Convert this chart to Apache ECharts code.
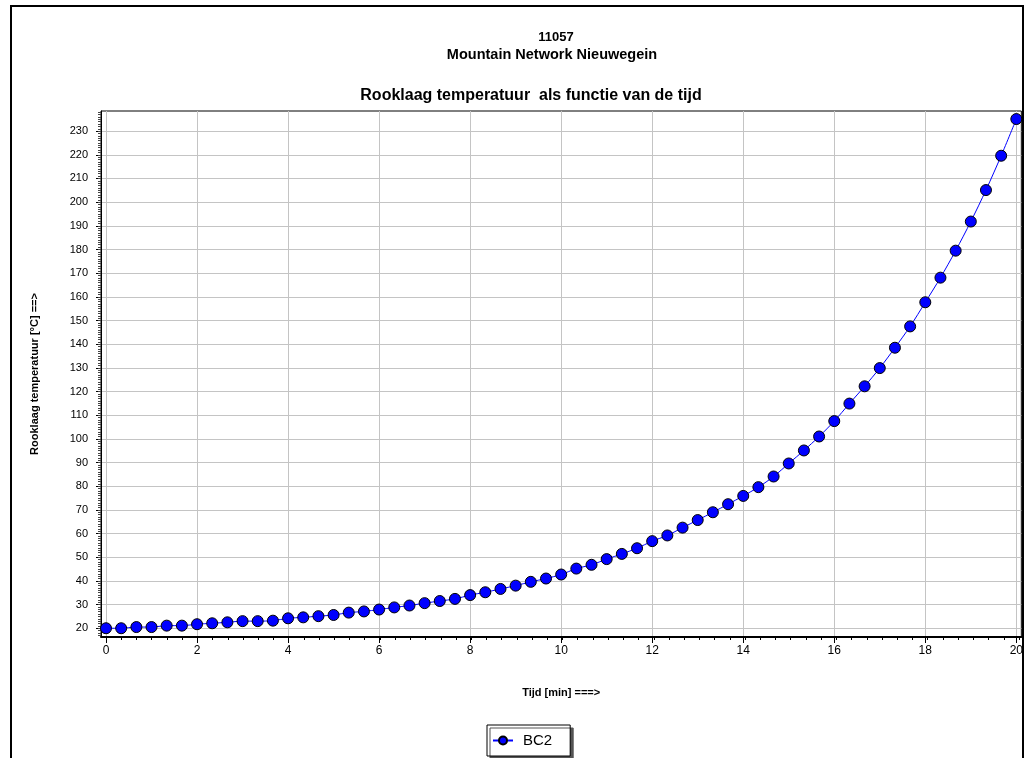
<!DOCTYPE html>
<html lang="nl" style="height: 100%;width: 100%">
<head>
    <meta charset="UTF-8">
    <title>Rooklaag temperatuur</title>
    <script src="https://cdn.jsdelivr.net/npm/echarts@6/dist/echarts.min.js"></script>
</head>
<body style="height: 100%; margin: 0; background: #fff">
<div id="charts" style="width: 1026px; height: 758px"></div>
<script>
    // tijd [min] en rooklaag temperatuur [°C]
    var times = [0, 0.333, 0.667, 1, 1.333, 1.667, 2, 2.333, 2.667, 3,
        3.333, 3.667, 4, 4.333, 4.667, 5, 5.333, 5.667, 6, 6.333,
        6.667, 7, 7.333, 7.667, 8, 8.333, 8.667, 9, 9.333, 9.667,
        10, 10.333, 10.667, 11, 11.333, 11.667, 12, 12.333, 12.667, 13,
        13.333, 13.667, 14, 14.333, 14.667, 15, 15.333, 15.667, 16, 16.333,
        16.667, 17, 17.333, 17.667, 18, 18.333, 18.667, 19, 19.333, 19.667, 20];
    var temps = [20.0, 20.0, 20.5, 20.5, 21.1, 21.1, 21.7, 22.1, 22.5, 23.0,
        23.0, 23.2, 24.2, 24.6, 25.1, 25.6, 26.6, 27.1, 27.9, 28.8,
        29.6, 30.6, 31.5, 32.4, 34.0, 35.2, 36.6, 38.0, 39.6, 41.0,
        42.7, 45.2, 46.8, 49.2, 51.4, 53.8, 56.8, 59.2, 62.5, 65.7,
        69.0, 72.4, 75.9, 79.6, 84.1, 89.6, 95.1, 101.0, 107.5, 114.9,
        122.2, 129.9, 138.5, 147.5, 157.7, 168.1, 179.5, 191.8, 205.1, 219.6, 235.1];
    var xTicks = [0, 2, 4, 6, 8, 10, 12, 14, 16, 18, 20];
    var yTicks = [20, 30, 40, 50, 60, 70, 80, 90, 100, 110, 120, 130, 140, 150,
        160, 170, 180, 190, 200, 210, 220, 230];

    var xMin = -0.11, xMax = 20.11;
    var yMin = 16.3, yMax = 238.5;

    // kleine streepjes langs de y-as, om de 1 graad
    var yMinor = [];
    for (var v = Math.ceil(yMin); v <= yMax; v++) {
        yMinor.push(v);
    }

    var font = '"Liberation Sans", Arial, sans-serif';
    var plot = {left: 101, top: 111, right: 2, bottom: 121};

    var dom = document.getElementById("charts");
    var myChart = echarts.init(dom);
    var option = {
        animation: false,
        backgroundColor: '#fff',
        graphic: [
            {
                type: 'rect',
                shape: {x: 11, y: 6, width: 1012, height: 800},
                style: {fill: null, stroke: '#000', lineWidth: 2},
                silent: true
            },
            {
                type: 'text', x: 556, y: 37,
                style: {text: '11057', font: 'bold 13px ' + font, fill: '#000', align: 'center', verticalAlign: 'middle'}
            },
            {
                type: 'text', x: 552, y: 55,
                style: {text: 'Mountain Network Nieuwegein', font: 'bold 14.5px ' + font, fill: '#000', align: 'center', verticalAlign: 'middle'}
            },
            {
                type: 'text', x: 531, y: 96,
                style: {text: 'Rooklaag temperatuur  als functie van de tijd', font: 'bold 16px ' + font, fill: '#000', align: 'center', verticalAlign: 'middle'}
            }
        ],
        grid: [
            {
                left: plot.left, top: plot.top, right: plot.right, bottom: plot.bottom,
                show: true,
                borderColor: '#000',
                borderWidth: 1
            },
            // tweede grid op dezelfde plek, alleen voor de kleine streepjes
            {
                left: plot.left, top: plot.top, right: plot.right, bottom: plot.bottom,
                show: false
            }
        ],
        legend: {
            left: 487,
            top: 725,
            data: ['BC2'],
            itemWidth: 20,
            itemHeight: 10,
            padding: [8, 18, 8, 5],
            borderColor: '#000',
            borderWidth: 1,
            borderRadius: 0,
            backgroundColor: '#fff',
            shadowColor: '#555',
            shadowOffsetX: 3,
            shadowOffsetY: 3,
            shadowBlur: 0,
            textStyle: {fontFamily: font, fontSize: 15, color: '#000', padding: [0, 0, 0, 5]}
        },
        xAxis: [
            {
                type: 'value',
                gridIndex: 0,
                min: xMin,
                max: xMax,
                name: 'Tijd [min] ===>',
                nameLocation: 'middle',
                nameGap: 50,
                nameTextStyle: {fontFamily: font, fontSize: 11, fontWeight: 'bold', color: '#000'},
                axisLine: {show: true, onZero: false, lineStyle: {color: '#000', width: 2}},
                axisTick: {show: true, customValues: xTicks, length: 6, lineStyle: {color: '#000'}},
                axisLabel: {customValues: xTicks, margin: 8, fontFamily: font, fontSize: 12, color: '#000'},
                splitLine: {show: true, lineStyle: {color: '#c4c4c4', width: 1}}
            },
            {
                type: 'value',
                gridIndex: 1,
                min: xMin,
                max: xMax,
                position: 'bottom',
                axisLine: {show: false, onZero: false},
                axisTick: {show: true, customValues: times, length: 3, lineStyle: {color: '#000'}},
                axisLabel: {show: false},
                splitLine: {show: false}
            }
        ],
        yAxis: [
            {
                type: 'value',
                gridIndex: 0,
                min: yMin,
                max: yMax,
                name: 'Rooklaag temperatuur [°C] ==>',
                nameLocation: 'middle',
                nameGap: 61,
                nameTextStyle: {fontFamily: font, fontSize: 11, fontWeight: 'bold', color: '#000'},
                axisLine: {show: true, onZero: false, lineStyle: {color: '#000', width: 1}},
                axisTick: {show: true, customValues: yTicks, length: 5, lineStyle: {color: '#000'}},
                axisLabel: {customValues: yTicks, margin: 13, fontFamily: font, fontSize: 11, color: '#000'},
                splitLine: {show: true, lineStyle: {color: '#c4c4c4', width: 1}}
            },
            {
                type: 'value',
                gridIndex: 1,
                min: yMin,
                max: yMax,
                position: 'left',
                axisLine: {show: false, onZero: false},
                axisTick: {show: true, customValues: yMinor, length: 3, lineStyle: {color: '#444'}},
                axisLabel: {show: false},
                splitLine: {show: false}
            }
        ],
        series: [
            {
                name: 'BC2',
                type: 'line',
                xAxisIndex: 0,
                yAxisIndex: 0,
                smooth: 0.3,
                symbol: 'circle',
                symbolSize: 11,
                data: times.map(function (t, i) { return [t, temps[i]]; }),
                lineStyle: {color: '#0000ff', width: 1},
                itemStyle: {color: '#0000ff', borderColor: '#000', borderWidth: 1}
            }
        ]
    };
    myChart.setOption(option, true);
</script>
</body>
</html>
